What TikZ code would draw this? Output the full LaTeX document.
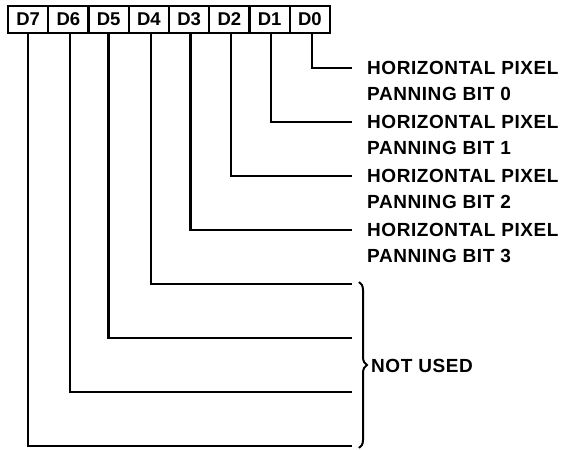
\documentclass[tikz,border=0pt]{standalone}
\usepackage{fontspec}
\setmainfont{Liberation Sans}
\newfontfamily\lblfont[LetterSpace=3]{Liberation Sans}
\usetikzlibrary{decorations.pathreplacing}
\begin{document}
\begin{tikzpicture}[x=1pt,y=-1pt,
  bitbox/.style={draw, line width=2.4pt, minimum width=40.25pt, minimum height=27pt, inner sep=0pt, font=\fontsize{18.5}{20}\selectfont\bfseries},
  wire/.style={line width=2.5pt},
  lbl/.style={anchor=north west, inner sep=0pt, align=left, font=\lblfont\fontsize{19}{26.5}\selectfont\bfseries},
  bracestyle/.style={line width=2pt, decorate, decoration={brace, amplitude=8pt}}]
\useasboundingbox (0,0) rectangle (566,450);
% bit boxes
\node[bitbox] (b7) at (28.125,19.5) {D7};
\node[bitbox] (b6) at (68.375,19.5) {D6};
\node[bitbox] (b5) at (108.625,19.5) {D5};
\node[bitbox] (b4) at (148.875,19.5) {D4};
\node[bitbox] (b3) at (189.125,19.5) {D3};
\node[bitbox] (b2) at (229.375,19.5) {D2};
\node[bitbox] (b1) at (269.625,19.5) {D1};
\node[bitbox] (b0) at (309.875,19.5) {D0};
% line ends
\coordinate (e0) at (352,68);
\coordinate (e1) at (352,122);
\coordinate (e2) at (352,176);
\coordinate (e3) at (352,230);
\coordinate (e4) at (352,284);
\coordinate (e5) at (352,338);
\coordinate (e6) at (352,392);
\coordinate (e7) at (352,446);
% connectors
\draw[wire] ([xshift=2pt]b0.south) |- (e0);
\draw[wire] ([xshift=1.5pt]b1.south) |- (e1);
\draw[wire] ([xshift=1.5pt]b2.south) |- (e2);
\draw[wire] ([xshift=1.5pt]b3.south) |- (e3);
\draw[wire] ([xshift=2pt]b4.south) |- (e4);
\draw[wire] (b5.south) |- (e5);
\draw[wire] ([xshift=1.5pt]b6.south) |- (e6);
\draw[wire] (b7.south) |- (e7);
% labels
\node[lbl] (l0) at (367,61) {HORIZONTAL PIXEL\\PANNING BIT 0};
\node[lbl] (l1) at (367,115) {HORIZONTAL PIXEL\\PANNING BIT 1};
\node[lbl] (l2) at (367,169) {HORIZONTAL PIXEL\\PANNING BIT 2};
\node[lbl] (l3) at (367,223) {HORIZONTAL PIXEL\\PANNING BIT 3};
% brace
\coordinate (bt) at (359,282);
\coordinate (bb) at (359,448);
\draw[bracestyle] (bt) -- (bb);
\node[anchor=west, inner sep=0pt, font=\lblfont\fontsize{19}{22}\selectfont\bfseries] (nu) at (371,366) {NOT USED};
\end{tikzpicture}
\end{document}
